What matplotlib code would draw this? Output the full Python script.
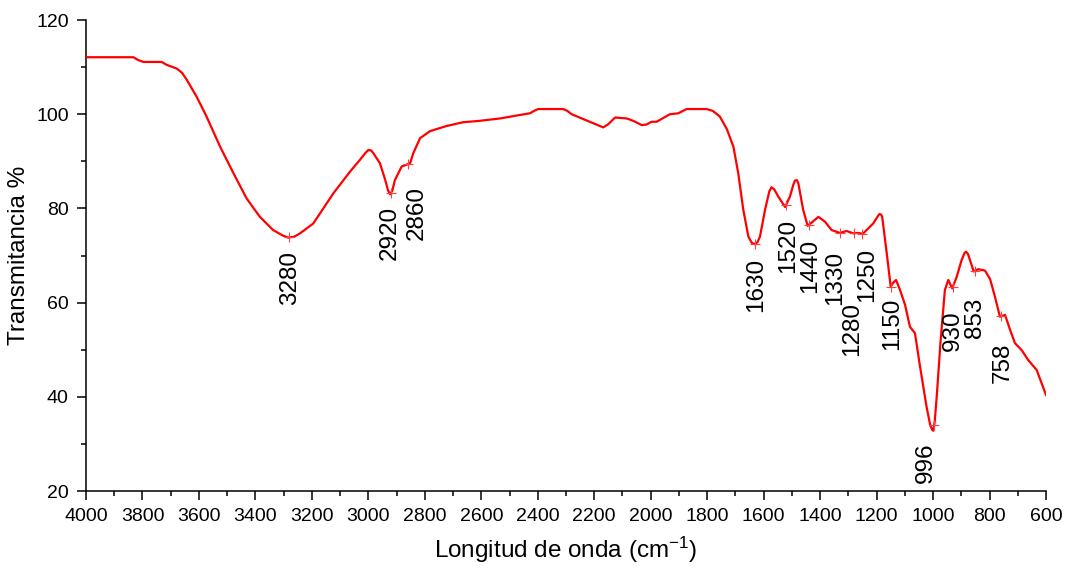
import numpy as np
import matplotlib
matplotlib.use("Agg")
import matplotlib.pyplot as plt
from matplotlib.ticker import MultipleLocator

plt.rcParams['font.family'] = ['Liberation Sans', 'DejaVu Sans']
plt.rcParams['mathtext.fontset'] = 'custom'
plt.rcParams['mathtext.rm'] = 'Liberation Sans'

# FTIR spectrum: wavenumber (cm-1) and transmittance (%)
wavenumber = [4000, 3832, 3815, 3797, 3732, 3715, 3702, 3679, 3660, 3643, 3608, 3573, 3525,
              3478, 3431, 3384, 3337, 3305, 3284, 3262, 3242, 3195, 3124, 3065, 3030,
              3010, 3000, 2990, 2982, 2959, 2941, 2930, 2923, 2915, 2906, 2882, 2864, 2852, 2841,
              2817, 2782, 2723, 2664, 2605, 2534, 2428, 2410, 2398, 2310, 2295, 2280,
              2215, 2180, 2168, 2150, 2126, 2085, 2062, 2032, 2015, 1997, 1979, 1932, 1902,
              1873, 1802, 1780, 1755, 1730, 1707, 1690, 1672, 1654, 1642, 1633, 1622, 1613, 1595,
              1580, 1572, 1562, 1548, 1524, 1507, 1495, 1489, 1482, 1477, 1460, 1444, 1430, 1406,
              1383, 1359, 1330, 1306, 1282, 1265, 1249, 1229, 1212, 1195, 1190,
              1184, 1180, 1164, 1150, 1140, 1131, 1117, 1099, 1082, 1064, 1046, 1023,
              1010, 1003, 999, 994, 987, 973, 958, 946, 932, 916, 899, 888, 883,
              876, 869, 856, 840, 816, 798, 781, 763, 745, 727, 710,
              686, 663, 633, 600]
transmittance = [112.1, 112.1, 111.5, 111.1, 111.1, 110.5, 110.2, 109.7, 108.8, 107.3, 103.7, 99.5, 93.1,
                 87.5, 82.1, 78.2, 75.4, 74.3, 73.8, 74.0, 74.7, 76.8, 83.2, 87.8, 90.3,
                 91.8, 92.4, 92.3, 91.7, 89.6, 86.2, 83.8, 83.0, 83.8, 86.0, 88.9, 89.3, 89.6, 91.7,
                 94.9, 96.4, 97.5, 98.3, 98.6, 99.1, 100.2, 100.8, 101.1, 101.1, 100.7, 100.0,
                 98.4, 97.5, 97.2, 97.9, 99.3, 99.1, 98.6, 97.7, 97.8, 98.4, 98.4, 100.0, 100.2,
                 101.1, 101.1, 100.7, 99.5, 96.8, 93.1, 87.5, 79.7, 74.0, 72.7, 72.4, 72.8, 74.0, 79.7,
                 83.6, 84.5, 84.0, 82.5, 80.3, 82.5, 85.0, 85.9, 86.0, 85.3, 79.7, 76.3, 77.0, 78.2,
                 77.2, 75.4, 74.8, 75.2, 74.7, 74.8, 74.6, 75.8, 76.8, 78.4, 78.8,
                 78.7, 78.2, 70.5, 63.4, 64.3, 64.8, 62.7, 59.5, 54.9, 53.5, 46.4, 37.9,
                 34.0, 33.0, 32.8, 34.8, 40.0, 52.1, 62.7, 64.8, 63.0, 65.5, 69.0, 70.6, 70.8,
                 70.3, 69.0, 66.6, 67.1, 66.8, 65.0, 61.3, 57.0, 57.4, 54.2, 51.4,
                 49.9, 47.8, 45.7, 40.4]

# labelled bands
peaks = [3280, 2920, 2860, 1630, 1520, 1440, 1330, 1280, 1250, 1150, 996, 930, 853, 758]
# where each band label sits (x centre, top edge)
label_x = [3277, 2925, 2830, 1625, 1513, 1436, 1347, 1288, 1232, 1146, 1026, 928, 850, 753]
label_top = [71.0, 80.6, 84.8, 69.6, 77.7, 73.5, 71.0, 60.1, 71.7, 61.1, 30.3, 58.3, 61.1, 51.6]

wn = np.array(wavenumber[::-1], dtype=float)
tr = np.array(transmittance[::-1], dtype=float)

fig = plt.figure(figsize=(10.67, 5.72), dpi=100)
ax = fig.add_axes([0.0806, 0.1416, 0.8997, 0.8234])

ax.plot(wn, tr, color='red', lw=1.6, zorder=3, solid_joinstyle='round')

peak_y = np.interp(peaks, wn, tr)
ax.plot(peaks, peak_y, ls='none', marker='+', ms=7, mew=0.8, color='#ff4040', zorder=4)

for p, lx, ly in zip(peaks, label_x, label_top):
    ax.text(lx, ly, str(p), rotation=90, ha='center', va='top', fontsize=17.5, color='black')

ax.set_xlim(4000, 600)
ax.set_ylim(20, 120)
ax.xaxis.set_major_locator(MultipleLocator(200))
ax.xaxis.set_minor_locator(MultipleLocator(100))
ax.yaxis.set_major_locator(MultipleLocator(20))
ax.yaxis.set_minor_locator(MultipleLocator(10))

for side in ['top', 'right']:
    ax.spines[side].set_visible(False)
for side in ['left', 'bottom']:
    ax.spines[side].set_linewidth(1.1)

ax.tick_params(which='major', direction='out', length=6.5, width=1.1, labelsize=14, pad=6)
ax.tick_params(which='minor', direction='out', length=3.5, width=1.1)

ax.set_xlabel(r'Longitud de onda (cm$\mathregular{^{-1}}$)', fontsize=17.5, labelpad=7)
ax.set_ylabel('Transmitancia %', fontsize=17.5, labelpad=4)

fig.savefig('out.png', dpi=100)
